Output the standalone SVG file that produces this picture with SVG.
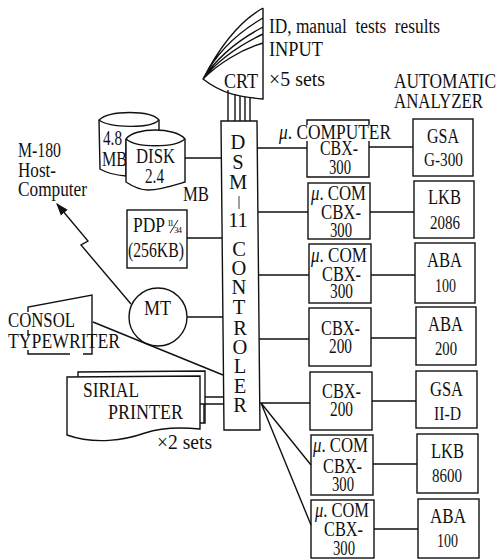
<svg xmlns="http://www.w3.org/2000/svg" width="497" height="559" viewBox="0 0 497 559">
<style>
text{font-family:"Liberation Serif","Times New Roman",serif;font-size:20.5px;fill:#111}
.s{font-size:18.5px}
.m{text-anchor:middle}
.b,.l{fill:none;stroke:#111;stroke-width:1.4;stroke-linejoin:miter}
.w{fill:#fff;stroke:#111;stroke-width:1.4}
.mu{font-style:italic}
</style>
<defs>
<marker id="arrow" viewBox="0 0 10 10" refX="9" refY="5" markerWidth="9" markerHeight="9" orient="auto"><path d="M0 1.5L10 5L0 8.5Z" fill="#111"/></marker>
</defs>
<rect width="497" height="559" fill="#fff"/>
<g id="connectors">
<path class="l" d="M228 90V121M235 94V121M240 96V121M245 97V121M250 98V121"/>
<path class="l" d="M185 158H221M187 238H222M187 317H223M93 322L223 375M205 397H223M200 404H223"/>
<path class="l" d="M257 148H307M258 212H308M258 275H309M259 339H309M260 403H310M261 403L311 465M261 403L311 525"/>
<path class="l" d="M369 147H413M370 212H414M371 275H415M371 338H416M372 401H416M373 464H417M374 529H418"/>
<path class="l" marker-end="url(#arrow)" d="M131 304L81 245L88 241L57 204"/>
</g>
<g id="crt">
<path class="b" d="M263 8C238 22 218 50 203 79C222 94 240 97 263 99V8M203 79C218 50 242 30 263 18M203 79C218 56 242 38 263 27M203 79C218 60 242 44 263 34M203 79C218 64 240 50 263 43"/>
<text x="224" y="88" textLength="34" lengthAdjust="spacingAndGlyphs">CRT</text>
<text x="269" y="33" textLength="171" lengthAdjust="spacingAndGlyphs" xml:space="preserve">ID, manual  tests  results</text>
<text x="269" y="56" textLength="54" lengthAdjust="spacingAndGlyphs">INPUT</text>
<text x="269" y="86" textLength="56" lengthAdjust="spacingAndGlyphs">×5 sets</text>
</g>
<g id="automatic-analyzer-label">
<text x="394" y="88" textLength="102" lengthAdjust="spacingAndGlyphs">AUTOMATIC</text>
<text x="394" y="108" textLength="89" lengthAdjust="spacingAndGlyphs">ANALYZER</text>
</g>
<g id="disk-48">
<path class="w" d="M99 120C110 110 150 110 159 120V140H126V176C115 175 105 172 100 169Z"/>
<path class="b" d="M99 120C110 128 150 129 159 120"/>
<text x="103" y="145" textLength="19" lengthAdjust="spacingAndGlyphs">4.8</text>
<text x="102" y="166" textLength="25" lengthAdjust="spacingAndGlyphs">MB</text>
</g>
<g id="disk-24">
<path class="w" d="M126 139C135 127 175 127 185 139V182C172 186 160 190 148 190C140 190 132 186 126 182Z"/>
<path class="b" d="M126 139C136 148 175 148 185 139"/>
<text x="136" y="163" textLength="39" lengthAdjust="spacingAndGlyphs">DISK</text>
<text x="145" y="183" textLength="19" lengthAdjust="spacingAndGlyphs">2.4</text>
<text x="183" y="201" textLength="26" lengthAdjust="spacingAndGlyphs">MB</text>
</g>
<g id="pdp">
<rect class="b" x="127" y="210" width="60" height="58"/>
<text x="133" y="232" textLength="32" lengthAdjust="spacingAndGlyphs">PDP</text>
<text x="167" y="226" style="font-size:9px" textLength="7">11</text>
<path class="l" style="stroke-width:.9" d="M170 233L178 220"/>
<text x="174" y="233" style="font-size:9px" textLength="8">34</text>
<text x="128" y="257" textLength="56" lengthAdjust="spacingAndGlyphs">(256KB)</text>
</g>
<g id="host">
<text x="18" y="157" textLength="43" lengthAdjust="spacingAndGlyphs">M-180</text>
<text x="18" y="177" textLength="38" lengthAdjust="spacingAndGlyphs">Host-</text>
<text x="18" y="196" textLength="69" lengthAdjust="spacingAndGlyphs">Computer</text>
</g>
<g id="mt">
<circle class="b" cx="158" cy="317" r="29"/>
<text x="144" y="315" textLength="27" lengthAdjust="spacingAndGlyphs">MT</text>
</g>
<g id="console">
<path class="b" d="M28 312V307L92 295V354H83M28 330V336M28 350V354H70"/>
<text x="8" y="327" textLength="67" lengthAdjust="spacingAndGlyphs">CONSOL</text>
<text x="8" y="348" textLength="112" lengthAdjust="spacingAndGlyphs">TYPEWRITER</text>
</g>
<g id="printer">
<path class="b" d="M78 377V372L205 371V423H200"/>
<path class="b" d="M204 404V423"/>
<path class="w" d="M67 377L200 376V429C180 427 160 428 145 433C125 440 95 445 67 435Z"/>
<text x="83" y="397" textLength="56" lengthAdjust="spacingAndGlyphs">SIRIAL</text>
<text x="108" y="419" textLength="75" lengthAdjust="spacingAndGlyphs">PRINTER</text>
<text x="157" y="449" textLength="55" lengthAdjust="spacingAndGlyphs">×2 sets</text>
</g>
<g id="controller">
<path class="b" d="M221 121H257L260 430H224Z"/>
<text class="m" x="238" y="149">D</text>
<text class="m" x="238" y="169">S</text>
<text class="m" x="238" y="189">M</text>
<path class="l" style="stroke-width:.8" d="M239 196V209"/>
<text class="m" x="238" y="227">11</text>
<text class="m" x="239" y="256">C</text>
<text class="m" x="239" y="275">O</text>
<text class="m" x="239" y="294">N</text>
<text class="m" x="239" y="314">T</text>
<text class="m" x="240" y="335">R</text>
<text class="m" x="240" y="354">O</text>
<text class="m" x="240" y="373">L</text>
<text class="m" x="240" y="393">E</text>
<text class="m" x="240" y="412">R</text>
</g>
<g id="cbx-1">
<path class="b" d="M307 125V120H369V125M307 141V177H369V141"/>
<text x="279" y="139" textLength="112" lengthAdjust="spacingAndGlyphs"><tspan class="mu">μ</tspan>. COMPUTER</text>
<text x="320" y="155" textLength="38" lengthAdjust="spacingAndGlyphs">CBX-</text>
<text x="329" y="174" textLength="22" lengthAdjust="spacingAndGlyphs">300</text>
</g>
<g id="cbx-2">
<rect class="b" x="308" y="183" width="62" height="56"/>
<text x="311" y="200" textLength="55" lengthAdjust="spacingAndGlyphs"><tspan class="mu">μ</tspan>. COM</text>
<text x="321" y="219" textLength="40" lengthAdjust="spacingAndGlyphs">CBX-</text>
<text x="330" y="237" textLength="22" lengthAdjust="spacingAndGlyphs">300</text>
</g>
<g id="cbx-3">
<rect class="b" x="309" y="244" width="62" height="59"/>
<text x="311" y="262" textLength="56" lengthAdjust="spacingAndGlyphs"><tspan class="mu">μ</tspan>. COM</text>
<text x="322" y="281" textLength="39" lengthAdjust="spacingAndGlyphs">CBX-</text>
<text x="330" y="298" textLength="23" lengthAdjust="spacingAndGlyphs">300</text>
</g>
<g id="cbx-4">
<rect class="b" x="309" y="308" width="62" height="58"/>
<text x="321" y="335" textLength="39" lengthAdjust="spacingAndGlyphs">CBX-</text>
<text x="329" y="353" textLength="23" lengthAdjust="spacingAndGlyphs">200</text>
</g>
<g id="cbx-5">
<rect class="b" x="310" y="372" width="62" height="58"/>
<text x="322" y="398" textLength="39" lengthAdjust="spacingAndGlyphs">CBX-</text>
<text x="330" y="416" textLength="23" lengthAdjust="spacingAndGlyphs">200</text>
</g>
<g id="cbx-6">
<rect class="b" x="311" y="435" width="62" height="60"/>
<text x="313" y="452" textLength="55" lengthAdjust="spacingAndGlyphs"><tspan class="mu">μ</tspan>. COM</text>
<text x="323" y="473" textLength="39" lengthAdjust="spacingAndGlyphs">CBX-</text>
<text x="332" y="491" textLength="22" lengthAdjust="spacingAndGlyphs">300</text>
</g>
<g id="cbx-7">
<rect class="b" x="311" y="500" width="63" height="58"/>
<text x="315" y="517" textLength="54" lengthAdjust="spacingAndGlyphs"><tspan class="mu">μ</tspan>. COM</text>
<text x="324" y="536" textLength="39" lengthAdjust="spacingAndGlyphs">CBX-</text>
<text x="333" y="555" textLength="22" lengthAdjust="spacingAndGlyphs">300</text>
</g>
<g id="analyzer-1">
<rect class="b" x="413" y="119" width="60" height="57"/>
<text x="427" y="143" textLength="32" lengthAdjust="spacingAndGlyphs">GSA</text>
<text class="s" x="424" y="166" textLength="39" lengthAdjust="spacingAndGlyphs">G-300</text>
</g>
<g id="analyzer-2">
<rect class="b" x="414" y="181" width="60" height="57"/>
<text x="428" y="204" textLength="33" lengthAdjust="spacingAndGlyphs">LKB</text>
<text class="s" x="430" y="229" textLength="30" lengthAdjust="spacingAndGlyphs">2086</text>
</g>
<g id="analyzer-3">
<rect class="b" x="415" y="243" width="60" height="60"/>
<text x="427" y="267" textLength="35" lengthAdjust="spacingAndGlyphs">ABA</text>
<text class="s" x="435" y="292" textLength="21" lengthAdjust="spacingAndGlyphs">100</text>
</g>
<g id="analyzer-4">
<rect class="b" x="416" y="307" width="60" height="58"/>
<text x="428" y="331" textLength="35" lengthAdjust="spacingAndGlyphs">ABA</text>
<text class="s" x="435" y="355" textLength="22" lengthAdjust="spacingAndGlyphs">200</text>
</g>
<g id="analyzer-5">
<rect class="b" x="416" y="371" width="61" height="57"/>
<text x="430" y="396" textLength="33" lengthAdjust="spacingAndGlyphs">GSA</text>
<text class="s" x="434" y="420" textLength="27" lengthAdjust="spacingAndGlyphs">II-D</text>
</g>
<g id="analyzer-6">
<rect class="b" x="417" y="434" width="61" height="59"/>
<text x="431" y="458" textLength="33" lengthAdjust="spacingAndGlyphs">LKB</text>
<text class="s" x="432" y="482" textLength="30" lengthAdjust="spacingAndGlyphs">8600</text>
</g>
<g id="analyzer-7">
<rect class="b" x="418" y="499" width="61" height="59"/>
<text x="430" y="523" textLength="36" lengthAdjust="spacingAndGlyphs">ABA</text>
<text class="s" x="437" y="547" textLength="21" lengthAdjust="spacingAndGlyphs">100</text>
</g>
</svg>
